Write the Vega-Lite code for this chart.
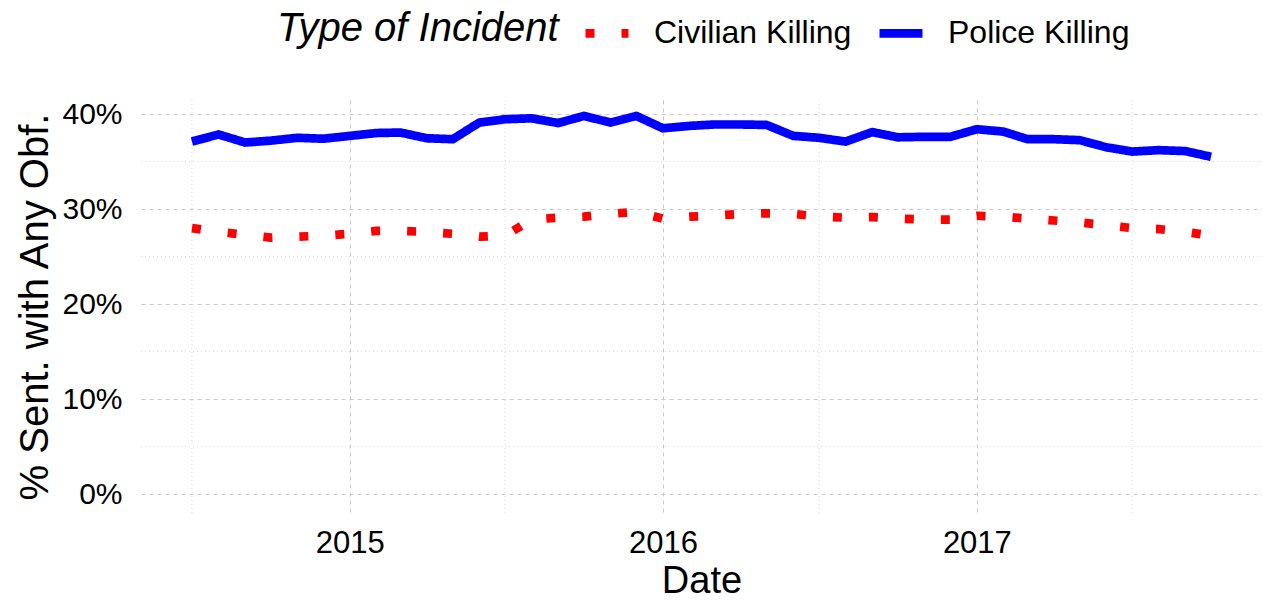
{
  "$schema": "https://vega.github.io/schema/vega-lite/v6.json",
  "width": 1121,
  "height": 413,
  "autosize": {"type": "none"},
  "padding": {"left": 141, "top": 100, "right": 0, "bottom": 88},
  "background": "white",
  "config": {
    "view": {"stroke": null},
    "font": "Liberation Sans",
    "axis": {
      "domain": false,
      "ticks": false,
      "tickSize": 0,
      "labelFont": "Liberation Sans",
      "labelFontSize": 30,
      "labelColor": "#000000",
      "titleFont": "Liberation Sans",
      "titleFontWeight": "normal",
      "titleColor": "#000000",
      "gridColor": "#c8c8c8",
      "gridDash": [4, 4],
      "gridWidth": 1.1
    },
    "legend": {"padding": 0}
  },
  "layer": [
    {
      "data": {"values": [{"pct": 0.05}, {"pct": 0.15}, {"pct": 0.25}, {"pct": 0.35}]},
      "mark": {"type": "rule", "color": "#d9d9d9", "strokeDash": [1, 3], "strokeWidth": 1},
      "encoding": {
        "y": {
          "field": "pct", "type": "quantitative",
          "scale": {"domain": [-0.01975, 0.41475], "nice": false, "zero": false},
          "axis": {
            "title": "% Sent. with Any Obf.", "titleFontSize": 40, "titlePadding": 6,
            "values": [0, 0.1, 0.2, 0.3, 0.4], "format": ".0%",
            "labelPadding": 19, "grid": true
          }
        }
      }
    },
    {
      "data": {"values": [{"date": "2014-07-01"}, {"date": "2015-07-01"}, {"date": "2016-07-01"}, {"date": "2017-07-01"}]},
      "mark": {"type": "rule", "color": "#d9d9d9", "strokeDash": [1, 3], "strokeWidth": 1},
      "encoding": {
        "x": {
          "field": "date", "type": "temporal",
          "scale": {"type": "utc", "domain": [1399040640000, 1511948160000]},
          "axis": {
            "title": "Date", "titleFontSize": 38, "titlePadding": 4,
            "values": [1420070400000, 1451606400000, 1483228800000],
            "format": "%Y", "formatType": "utc",
            "labelPadding": 15, "labelFontSize": 31, "grid": true
          }
        }
      }
    },
    {
      "data": {"values": [
        {"date": "2014-07-01", "type": "Civilian Killing", "pct": 0.280},
        {"date": "2014-08-01", "type": "Civilian Killing", "pct": 0.276},
        {"date": "2014-09-01", "type": "Civilian Killing", "pct": 0.273},
        {"date": "2014-10-01", "type": "Civilian Killing", "pct": 0.270},
        {"date": "2014-11-01", "type": "Civilian Killing", "pct": 0.271},
        {"date": "2014-12-01", "type": "Civilian Killing", "pct": 0.272},
        {"date": "2015-01-01", "type": "Civilian Killing", "pct": 0.274},
        {"date": "2015-02-01", "type": "Civilian Killing", "pct": 0.277},
        {"date": "2015-03-01", "type": "Civilian Killing", "pct": 0.277},
        {"date": "2015-04-01", "type": "Civilian Killing", "pct": 0.276},
        {"date": "2015-05-01", "type": "Civilian Killing", "pct": 0.274},
        {"date": "2015-06-01", "type": "Civilian Killing", "pct": 0.271},
        {"date": "2015-07-01", "type": "Civilian Killing", "pct": 0.272},
        {"date": "2015-08-01", "type": "Civilian Killing", "pct": 0.289},
        {"date": "2015-09-01", "type": "Civilian Killing", "pct": 0.291},
        {"date": "2015-10-01", "type": "Civilian Killing", "pct": 0.292},
        {"date": "2015-11-01", "type": "Civilian Killing", "pct": 0.295},
        {"date": "2015-12-01", "type": "Civilian Killing", "pct": 0.297},
        {"date": "2016-01-01", "type": "Civilian Killing", "pct": 0.290},
        {"date": "2016-02-01", "type": "Civilian Killing", "pct": 0.292},
        {"date": "2016-03-01", "type": "Civilian Killing", "pct": 0.293},
        {"date": "2016-04-01", "type": "Civilian Killing", "pct": 0.295},
        {"date": "2016-05-01", "type": "Civilian Killing", "pct": 0.2955},
        {"date": "2016-06-01", "type": "Civilian Killing", "pct": 0.295},
        {"date": "2016-07-01", "type": "Civilian Killing", "pct": 0.292},
        {"date": "2016-08-01", "type": "Civilian Killing", "pct": 0.291},
        {"date": "2016-09-01", "type": "Civilian Killing", "pct": 0.2915},
        {"date": "2016-10-01", "type": "Civilian Killing", "pct": 0.290},
        {"date": "2016-11-01", "type": "Civilian Killing", "pct": 0.289},
        {"date": "2016-12-01", "type": "Civilian Killing", "pct": 0.289},
        {"date": "2017-01-01", "type": "Civilian Killing", "pct": 0.293},
        {"date": "2017-02-01", "type": "Civilian Killing", "pct": 0.292},
        {"date": "2017-03-01", "type": "Civilian Killing", "pct": 0.290},
        {"date": "2017-04-01", "type": "Civilian Killing", "pct": 0.288},
        {"date": "2017-05-01", "type": "Civilian Killing", "pct": 0.286},
        {"date": "2017-06-01", "type": "Civilian Killing", "pct": 0.283},
        {"date": "2017-07-01", "type": "Civilian Killing", "pct": 0.280},
        {"date": "2017-08-01", "type": "Civilian Killing", "pct": 0.279},
        {"date": "2017-09-01", "type": "Civilian Killing", "pct": 0.276},
        {"date": "2017-10-01", "type": "Civilian Killing", "pct": 0.272},
        {"date": "2014-07-01", "type": "Police Killing", "pct": 0.371},
        {"date": "2014-08-01", "type": "Police Killing", "pct": 0.3785},
        {"date": "2014-09-01", "type": "Police Killing", "pct": 0.370},
        {"date": "2014-10-01", "type": "Police Killing", "pct": 0.372},
        {"date": "2014-11-01", "type": "Police Killing", "pct": 0.375},
        {"date": "2014-12-01", "type": "Police Killing", "pct": 0.374},
        {"date": "2015-01-01", "type": "Police Killing", "pct": 0.377},
        {"date": "2015-02-01", "type": "Police Killing", "pct": 0.380},
        {"date": "2015-03-01", "type": "Police Killing", "pct": 0.3805},
        {"date": "2015-04-01", "type": "Police Killing", "pct": 0.3745},
        {"date": "2015-05-01", "type": "Police Killing", "pct": 0.3735},
        {"date": "2015-06-01", "type": "Police Killing", "pct": 0.391},
        {"date": "2015-07-01", "type": "Police Killing", "pct": 0.3945},
        {"date": "2015-08-01", "type": "Police Killing", "pct": 0.3955},
        {"date": "2015-09-01", "type": "Police Killing", "pct": 0.3905},
        {"date": "2015-10-01", "type": "Police Killing", "pct": 0.398},
        {"date": "2015-11-01", "type": "Police Killing", "pct": 0.391},
        {"date": "2015-12-01", "type": "Police Killing", "pct": 0.398},
        {"date": "2016-01-01", "type": "Police Killing", "pct": 0.385},
        {"date": "2016-02-01", "type": "Police Killing", "pct": 0.3875},
        {"date": "2016-03-01", "type": "Police Killing", "pct": 0.389},
        {"date": "2016-04-01", "type": "Police Killing", "pct": 0.389},
        {"date": "2016-05-01", "type": "Police Killing", "pct": 0.3885},
        {"date": "2016-06-01", "type": "Police Killing", "pct": 0.377},
        {"date": "2016-07-01", "type": "Police Killing", "pct": 0.375},
        {"date": "2016-08-01", "type": "Police Killing", "pct": 0.371},
        {"date": "2016-09-01", "type": "Police Killing", "pct": 0.381},
        {"date": "2016-10-01", "type": "Police Killing", "pct": 0.3755},
        {"date": "2016-11-01", "type": "Police Killing", "pct": 0.376},
        {"date": "2016-12-01", "type": "Police Killing", "pct": 0.376},
        {"date": "2017-01-01", "type": "Police Killing", "pct": 0.384},
        {"date": "2017-02-01", "type": "Police Killing", "pct": 0.3815},
        {"date": "2017-03-01", "type": "Police Killing", "pct": 0.3735},
        {"date": "2017-04-01", "type": "Police Killing", "pct": 0.3735},
        {"date": "2017-05-01", "type": "Police Killing", "pct": 0.3725},
        {"date": "2017-06-01", "type": "Police Killing", "pct": 0.365},
        {"date": "2017-07-01", "type": "Police Killing", "pct": 0.3605},
        {"date": "2017-08-01", "type": "Police Killing", "pct": 0.362},
        {"date": "2017-09-01", "type": "Police Killing", "pct": 0.361},
        {"date": "2017-10-01", "type": "Police Killing", "pct": 0.355}
      ]},
      "mark": {"type": "line", "strokeWidth": 8.7, "strokeCap": "butt", "strokeJoin": "round"},
      "encoding": {
        "x": {
          "field": "date", "type": "temporal",
          "scale": {"type": "utc", "domain": [1399040640000, 1511948160000]},
          "axis": {
            "title": "Date", "titleFontSize": 38, "titlePadding": 4,
            "values": [1420070400000, 1451606400000, 1483228800000],
            "format": "%Y", "formatType": "utc",
            "labelPadding": 15, "labelFontSize": 31, "grid": true
          }
        },
        "y": {
          "field": "pct", "type": "quantitative",
          "scale": {"domain": [-0.01975, 0.41475], "nice": false, "zero": false},
          "axis": {
            "title": "% Sent. with Any Obf.", "titleFontSize": 40, "titlePadding": 6,
            "values": [0, 0.1, 0.2, 0.3, 0.4], "format": ".0%",
            "labelPadding": 19, "grid": true
          }
        },
        "color": {
          "field": "type", "type": "nominal",
          "scale": {"domain": ["Civilian Killing", "Police Killing"], "range": ["#ff0000", "#0000ff"]},
          "legend": {
            "title": "Type of Incident", "orient": "none", "legendX": 136, "legendY": -93,
            "direction": "horizontal", "titleOrient": "left",
            "titleFont": "Liberation Sans", "titleFontSize": 40, "titleFontStyle": "italic", "titleFontWeight": "normal", "titleColor": "#000000",
            "titlePadding": 22, "titleLimit": 0,
            "labelFont": "Liberation Sans", "labelFontSize": 32, "labelColor": "#000000", "labelOffset": 21, "labelLimit": 0,
            "columnPadding": 10, "symbolSize": 1849, "symbolStrokeWidth": 8.7, "symbolType": "stroke"
          }
        },
        "strokeDash": {
          "field": "type", "type": "nominal",
          "scale": {"domain": ["Civilian Killing", "Police Killing"], "range": [[9, 27], [1, 0]]},
          "legend": {
            "title": "Type of Incident", "orient": "none", "legendX": 136, "legendY": -93,
            "direction": "horizontal", "titleOrient": "left",
            "titleFont": "Liberation Sans", "titleFontSize": 40, "titleFontStyle": "italic", "titleFontWeight": "normal", "titleColor": "#000000",
            "titlePadding": 22, "titleLimit": 0,
            "labelFont": "Liberation Sans", "labelFontSize": 32, "labelColor": "#000000", "labelOffset": 21, "labelLimit": 0,
            "columnPadding": 10, "symbolSize": 1849, "symbolStrokeWidth": 8.7, "symbolType": "stroke"
          }
        }
      }
    }
  ]
}
